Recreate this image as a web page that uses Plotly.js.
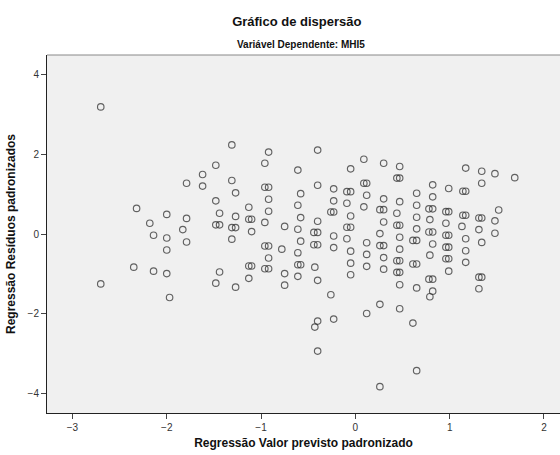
<!DOCTYPE html>
<html>
<head>
<meta charset="utf-8">
<script src="https://cdn.plot.ly/plotly-3.0.1.min.js"></script>
<style>html,body{margin:0;padding:0;background:#fff;}#chart{width:560px;height:455px;}</style>
</head>
<body>
<div id="chart"></div>
<script>
// Regressão Valor previsto padronizado (x) and Regressão Resíduos padronizados (y)
const predicted = [
  -2.70,-2.70,
  -2.32,-2.35,
  -2.18,
  -2.14,-2.14,
  -2.00,-2.00,-2.00,-2.00,
  -1.97,
  -1.83,
  -1.79,-1.79,-1.79,
  -1.62,-1.62,
  -1.48,-1.48,-1.48,-1.48,
  -1.44,-1.44,-1.44,
  -1.31,-1.31,-1.31,-1.31,
  -1.27,-1.27,-1.27,-1.27,
  -1.13,-1.13,-1.13,-1.13,
  -1.10,-1.10,-1.10,
  -0.96,-0.96,-0.96,-0.96,-0.96,
  -0.92,-0.92,-0.92,-0.92,-0.92,-0.92,-0.92,
  -0.78,
  -0.75,-0.75,-0.75,
  -0.61,-0.61,-0.61,-0.61,-0.61,-0.61,
  -0.58,-0.58,-0.58,-0.58,
  -0.44,-0.44,-0.43,-0.43,
  -0.40,-0.40,-0.40,-0.40,-0.40,-0.40,-0.40,-0.40,
  -0.26,-0.26,
  -0.23,-0.23,-0.23,-0.23,-0.23,-0.23,
  -0.09,-0.09,-0.09,-0.09,
  -0.05,-0.05,-0.05,-0.05,-0.05,-0.05,-0.05,
  0.09,0.09,0.09,
  0.12,0.12,0.12,0.12,0.12,0.12,
  0.26,0.26,0.26,0.26,0.26,
  0.30,0.30,0.30,0.30,0.30,0.30,0.30,
  0.44,0.44,0.44,0.44,0.44,
  0.47,0.47,0.47,0.47,0.47,0.47,0.47,0.47,0.47,0.47,
  0.61,0.61,0.61,
  0.65,0.65,0.65,0.65,0.65,0.65,0.65,0.65,
  0.78,0.79,0.78,0.79,0.78,0.79,
  0.82,0.82,0.82,0.82,0.82,0.82,0.82,
  0.96,0.96,0.96,0.96,0.96,
  0.99,0.99,0.99,0.99,0.99,0.99,
  1.14,1.14,1.13,
  1.17,1.17,1.17,1.17,1.17,1.17,
  1.31,1.31,1.31,1.31,
  1.34,1.34,1.34,1.34,1.34,
  1.48,1.48,1.48,
  1.52,
  1.69
];
const residuals = [
  3.18,-1.25,
  0.64,-0.83,
  0.27,
  -0.03,-0.93,
  0.49,-0.10,-0.40,-0.99,
  -1.59,
  0.11,
  1.27,0.39,-0.20,
  1.49,1.20,
  1.72,0.83,0.23,-1.23,
  0.52,0.23,-0.95,
  2.23,1.34,0.16,-0.13,
  1.03,0.44,0.16,-1.33,
  0.67,0.37,-0.80,-1.11,
  0.37,0.06,-0.80,
  1.77,1.17,0.29,-0.30,-0.87,
  2.05,1.17,0.87,0.57,-0.30,-0.60,-0.87,
  -0.38,
  0.19,-0.99,-1.28,
  1.60,0.72,0.12,-0.47,-0.77,-1.06,
  1.01,0.41,-0.18,-0.77,
  0.04,-0.27,-0.83,-2.33,
  2.10,1.22,0.32,0.04,-0.27,-1.16,-2.18,-2.93,
  0.55,-1.52,
  1.13,0.83,0.55,-0.05,-0.34,-2.13,
  1.06,0.77,0.17,-0.12,
  1.63,1.06,0.45,0.17,-0.43,-0.73,-1.02,
  1.87,1.27,0.68,
  1.27,0.97,-0.22,-0.51,-0.81,-1.99,
  0.61,0.01,-0.29,-1.76,-3.82,
  1.77,0.88,0.61,0.30,-0.29,-0.59,-0.88,
  1.40,0.52,0.22,-0.67,-0.96,
  1.69,1.40,0.81,0.22,-0.08,-0.38,-0.67,-0.96,-1.27,-1.87,
  -0.16,-0.75,-2.23,
  1.02,0.72,0.42,0.13,-0.16,-0.75,-1.35,-3.42,
  0.63,0.36,0.05,-0.53,-1.13,-1.57,
  1.23,0.93,0.63,0.05,-0.25,-1.13,-1.43,
  0.56,0.27,-0.03,-0.33,-0.62,
  1.14,0.56,-0.03,-0.33,-0.62,-0.93,
  1.07,0.47,0.19,
  1.65,1.07,0.47,-0.12,-0.42,-0.71,
  0.40,0.11,-1.08,-1.37,
  1.57,1.27,0.40,-0.21,-1.08,
  1.51,0.33,0.02,
  0.60,
  1.41
];
const xTicks = [-3,-2,-1,0,1,2];
const yTicks = [-4,-2,0,2,4];

const FONT = 'Liberation Sans, Arial, sans-serif';

const trace = {
  x: predicted,
  y: residuals,
  type: 'scatter',
  mode: 'markers',
  marker: {
    symbol: 'circle-open',
    size: 6.5,
    color: 'rgba(50,50,50,0.75)',
    line: {width: 1.15}
  },
  hoverinfo: 'x+y'
};

const layout = {
  width: 560,
  height: 455,
  margin: {l: 47, r: 0, t: 55, b: 42},
  paper_bgcolor: '#ffffff',
  plot_bgcolor: '#f0f0f0',
  showlegend: false,
  font: {family: FONT, color: '#222'},
  title: {
    text: '<b>Gráfico de dispersão</b>',
    font: {family: FONT, size: 13, color: '#111'},
    x: 0.53, xanchor: 'center',
    y: 0.953, yanchor: 'middle'
  },
  annotations: [{
    text: '<b>Variável Dependente: MHI5</b>',
    xref: 'paper', yref: 'paper',
    x: 0.495, y: 1, xanchor: 'center', yanchor: 'bottom', yshift: 3,
    showarrow: false,
    font: {family: FONT, size: 10, color: '#111'}
  }],
  xaxis: {
    range: [-3.27, 2.17],
    tickvals: xTicks,
    ticks: 'outside', ticklen: 5, tickwidth: 1, tickcolor: '#444',
    showline: true, linecolor: '#222', linewidth: 1,
    showgrid: false, zeroline: false,
    tickfont: {family: FONT, size: 10, color: '#333'},
    title: {text: '<b>Regressão Valor previsto padronizado</b>', font: {family: FONT, size: 12, color: '#111'}, standoff: 6}
  },
  yaxis: {
    range: [-4.48, 4.48],
    tickvals: yTicks,
    ticks: 'outside', ticklen: 5, tickwidth: 1, tickcolor: '#444',
    showline: true, linecolor: '#222', linewidth: 1,
    showgrid: false, zeroline: false,
    tickfont: {family: FONT, size: 10, color: '#333'},
    title: {text: '<b>Regressão Resíduos padronizados</b>', font: {family: FONT, size: 12, color: '#111'}, standoff: 9}
  },
  shapes: [{
    type: 'line', xref: 'paper', yref: 'paper',
    x0: 0, x1: 1, y0: 1, y1: 1,
    line: {color: '#888', width: 1}
  }]
};

Plotly.newPlot('chart', [trace], layout, {displayModeBar: false, staticPlot: true});
</script>
</body>
</html>
